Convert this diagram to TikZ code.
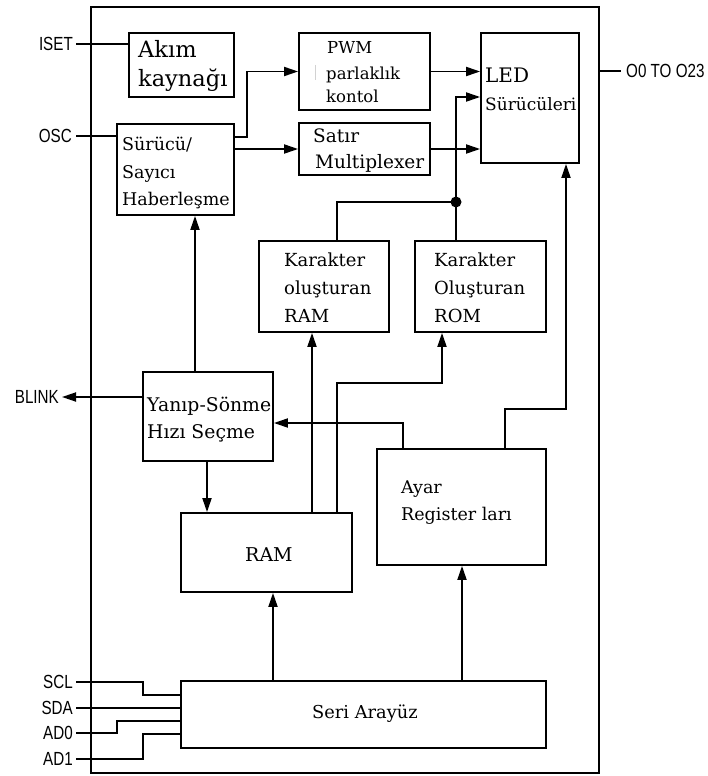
\documentclass[tikz,border=0pt]{standalone}
\usepackage{fontspec}
\setmainfont{DejaVu Serif}
\newfontfamily\pinfont[FakeStretch=0.8]{Liberation Sans}
\usetikzlibrary{arrows.meta}
\tikzset{
  box/.style={draw, line width=1.8pt, inner sep=0pt},
  wire/.style={line width=1.8pt},
  arr/.style={wire, -{Triangle[length=14pt,width=9pt]}},
  lbl/.style={inner sep=0pt, anchor=base west},
  pin/.style={inner sep=0pt, font=\pinfont\fontsize{19}{19}\selectfont},
  jdot/.style={circle, fill, inner sep=0pt, minimum size=11pt},
}
\newcommand{\fs}[1]{\fontsize{#1}{#1}\selectfont}
\begin{document}
\begin{tikzpicture}[x=1pt, y=-1pt]
\useasboundingbox (0,0) rectangle (707,776);
\fill[white] (0,0) rectangle (707,776);

% boxes
\node[box, minimum width=508pt, minimum height=766pt] (outer) at (345,390) {};
\node[box, minimum width=105pt, minimum height=64pt] (akim) at (181.5,65) {};
\node[box, minimum width=117pt, minimum height=91pt] (surucu) at (175.5,169.5) {};
\node[box, minimum width=131pt, minimum height=77pt] (pwm) at (364.5,71.5) {};
\node[box, minimum width=131pt, minimum height=52pt] (satir) at (364.5,149) {};
\node[box, minimum width=98pt, minimum height=130pt] (led) at (530,98) {};
\node[box, minimum width=130pt, minimum height=91pt] (cram) at (324,286.5) {};
\node[box, minimum width=131pt, minimum height=91pt] (crom) at (480.5,286.5) {};
\node[box, minimum width=130pt, minimum height=89pt] (yanip) at (208,416.5) {};
\node[box, minimum width=169pt, minimum height=116pt] (ayar) at (461.5,507) {};
\node[box, minimum width=171pt, minimum height=79pt] (ram) at (266.5,552.5) {};
\node[box, minimum width=365pt, minimum height=67pt] (seri) at (363.5,714.5) {};

% box texts
\node[lbl, font=\fs{22.5}] (akim1) at (138,57) {Akım};
\node[lbl, font=\fs{22.5}] (akim2) at (138,86) {kaynağı};
\node[lbl, font=\fs{17.5}] (sur1) at (122,150) {Sürücü/};
\node[lbl, font=\fs{17.5}] (sur2) at (122,178) {Sayıcı};
\node[lbl, font=\fs{17.5}] (sur3) at (122,205) {Haberleşme};
\node[lbl, font=\fs{16.5}] (pwm1) at (327,54) {PWM};
\node[lbl, font=\fs{16.5}] (pwm2) at (326,79) {parlaklık};
\node[lbl, font=\fs{16.5}] (pwm3) at (326,102) {kontol};
\node[lbl, font=\fs{18.5}] (sat1) at (313,142) {Satır};
\node[lbl, font=\fs{18.5}] (sat2) at (315,168) {Multiplexer};
\node[lbl, font=\fs{20}] (led1) at (485,82) {LED};
\node[lbl, font=\fs{17}] (led2) at (485,110) {Sürücüleri};
\node[lbl, font=\fs{18}] (cram1) at (284,266) {Karakter};
\node[lbl, font=\fs{18}] (cram2) at (284,294) {oluşturan};
\node[lbl, font=\fs{18}] (cram3) at (284,322) {RAM};
\node[lbl, font=\fs{18}] (crom1) at (434,266) {Karakter};
\node[lbl, font=\fs{18}] (crom2) at (434,294) {Oluşturan};
\node[lbl, font=\fs{18}] (crom3) at (434,322) {ROM};
\node[lbl, font=\fs{18.8}] (yan1) at (147,411) {Yanıp-Sönme};
\node[lbl, font=\fs{18.8}] (yan2) at (147,438) {Hızı Seçme};
\node[lbl, font=\fs{17.5}] (ayar1) at (401,493) {Ayar};
\node[lbl, font=\fs{17.5}] (ayar2) at (401,520) {Register ları};
\node[lbl, font=\fs{19}] (ram1) at (245,561) {RAM};
\node[lbl, font=\fs{17.8}] (seri1) at (312,718) {Seri Arayüz};

% faint mark in PWM box
\draw[gray!35, line width=1pt] (315,65) -- (315,80);

% pin labels
\node[pin, anchor=east] (isetl) at (73,44) {ISET};
\node[pin, anchor=east] (oscl) at (72,136) {OSC};
\node[pin, anchor=east] (blinkl) at (59,397) {BLINK};
\node[pin, anchor=west] (outl) at (626,71) {O0 TO O23};
\node[pin, anchor=east] (scll) at (73,682) {SCL};
\node[pin, anchor=east] (sdal) at (73,708) {SDA};
\node[pin, anchor=east] (ad0l) at (73,733) {AD0};
\node[pin, anchor=east] (ad1l) at (73,759) {AD1};

% helper coordinates
\coordinate (isetEnd) at (76,44);
\coordinate (oscEnd) at (76,136);
\coordinate (k1) at (247,137);
\coordinate (k3) at (0,97);
\coordinate (xr) at (337,202);
\coordinate (outEnd) at (621,71);
\coordinate (x195) at (195,0);
\coordinate (blinkEnd) at (62,397);
\coordinate (k5) at (403,423);
\coordinate (x207) at (207,0);
\coordinate (x312) at (312,0);
\coordinate (k6) at (337,383);
\coordinate (k7) at (442,383);
\coordinate (k8) at (505,409);
\coordinate (k9) at (566,409);
\coordinate (x273) at (273,0);
\coordinate (x462) at (462,0);
\coordinate (sclEnd) at (76,682);
\coordinate (sclJ) at (143,695);
\coordinate (sdaEnd) at (76,708);
\coordinate (ad0End) at (76,733);
\coordinate (ad0J) at (117,721);
\coordinate (ad1End) at (76,759);
\coordinate (ad1J) at (143,734);

\node[jdot] (dot) at (456,202) {};

% connectors
\draw[wire] (isetEnd) -- (akim.west |- isetEnd);
\draw[wire] (oscEnd) -- (surucu.west |- oscEnd);
\draw[arr] (surucu.east |- k1) -- (k1) |- (pwm.west);
\draw[arr] (surucu.east |- satir.west) -- (satir.west);
\draw[arr] (pwm.east) -- (led.west |- pwm.east);
\draw[arr] (satir.east) -- (led.west |- satir.east);
\draw[arr] (dot.center) |- (led.west |- k3);
\draw[wire] (cram.north -| xr) -- (xr) -- (dot.center);
\draw[wire] (crom.north -| dot) -- (dot.center);
\draw[wire] (outer.east |- outEnd) -- (outEnd);
\draw[arr] (yanip.north -| x195) -- (surucu.south -| x195);
\draw[arr] (yanip.west |- blinkEnd) -- (blinkEnd);
\draw[arr] (ayar.north -| k5) -- (k5) -- (yanip.east |- k5);
\draw[arr] (yanip.south -| x207) -- (ram.north -| x207);
\draw[arr] (ram.north -| x312) -- (cram.south -| x312);
\draw[arr] (ram.north -| k6) -- (k6) -- (k7) -- (crom.south -| k7);
\draw[arr] (ayar.north -| k8) -- (k8) -- (k9) -- (led.south -| k9);
\draw[arr] (seri.north -| x273) -- (ram.south -| x273);
\draw[arr] (seri.north -| x462) -- (ayar.south -| x462);
\draw[wire] (sclEnd) -| (sclJ) -- (seri.west |- sclJ);
\draw[wire] (sdaEnd) -- (seri.west |- sdaEnd);
\draw[wire] (ad0End) -| (ad0J) -- (seri.west |- ad0J);
\draw[wire] (ad1End) -| (ad1J) -- (seri.west |- ad1J);
\end{tikzpicture}
\end{document}
